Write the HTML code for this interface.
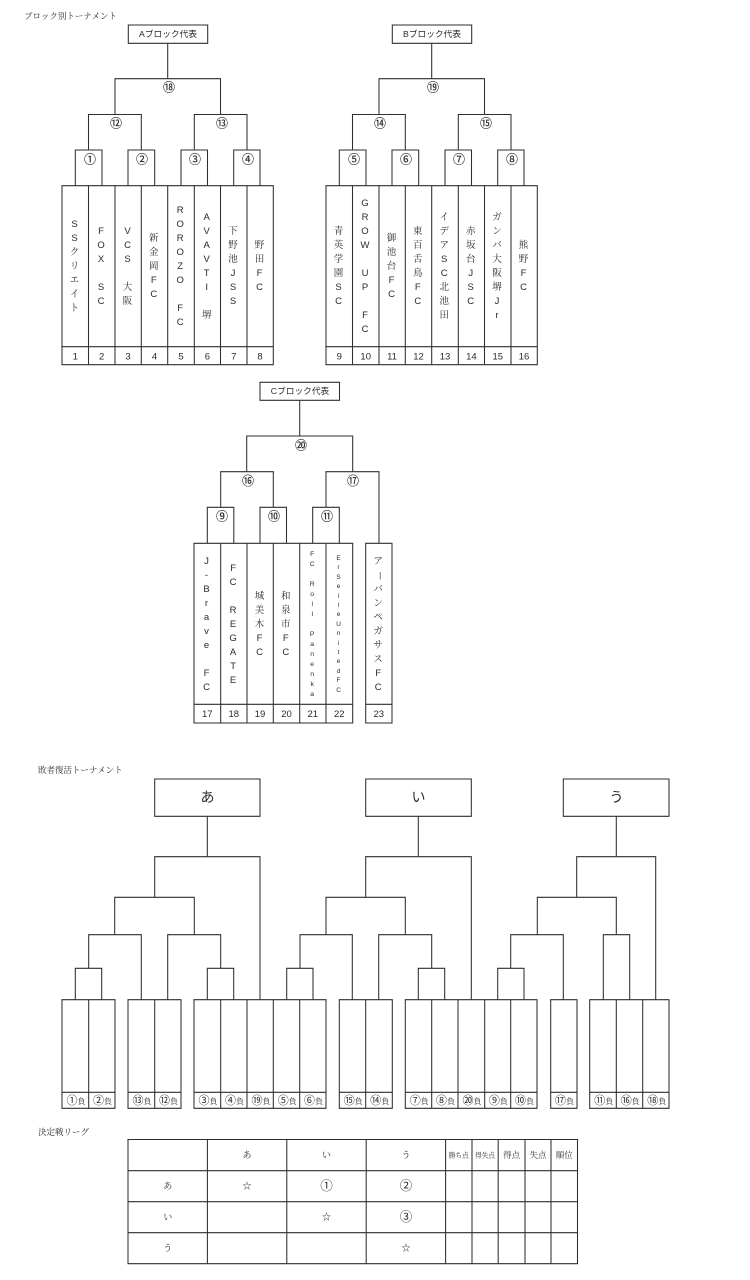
<!DOCTYPE html>
<html lang="ja"><head><meta charset="utf-8"><title>トーナメント表</title>
<style>
html,body{margin:0;padding:0;background:#fff}
#p{position:relative;width:750px;height:1280px;overflow:hidden;font-family:"Liberation Sans","Noto Serif CJK SC",serif;color:#2a2a2a;filter:blur(.3px)}
svg{position:absolute;left:0;top:0}
svg path{fill:none;stroke:#2e2e2e;stroke-width:1.05}
svg text{fill:#2a2a2a;text-anchor:middle;font-family:"Liberation Sans","Noto Sans CJK JP",sans-serif}
.n{font-size:9.5px}.c{font-size:12px;stroke:#2a2a2a;stroke-width:.15px}.r{font-size:8.7px}.b{font-size:14px}.h{font-size:8.5px;text-anchor:start!important;font-family:"Liberation Serif","Noto Serif CJK SC",serif!important}
.l{font-size:11px}.l tspan{font-size:8px;font-family:"Liberation Serif","Noto Serif CJK SC",serif}
.t{font-size:9px;font-family:"Liberation Serif","Noto Serif CJK SC",serif!important}.s{font-size:6.6px;font-family:"Liberation Serif","Noto Serif CJK SC",serif!important}.m{font-size:8.5px;font-family:"Liberation Serif","Noto Serif CJK SC",serif!important}.o{font-size:12.5px}
.v{position:absolute;width:26.4px;margin-left:-.7px;display:flex;align-items:center;justify-content:center;text-align:center;line-height:14px;font-size:9.5px}
.a{top:186.7px;height:161px}.k{top:544px;height:161px}
.sm{line-height:10px;font-size:6.8px}.sx{line-height:9.4px;font-size:6.4px}
.bar{display:block;writing-mode:vertical-rl;text-orientation:upright;width:14px;height:14px;line-height:14px;margin:0 auto}
</style></head><body><div id="p">
<svg width="750" height="1280" viewBox="0 0 750 1280">
<path d="M128.3 25H207.7V43.3H128.3ZM167.7 43.3V78.7M115 114.5V78.7H220.5V114.5M88.5 150V114.5H141.3V150M194.3 150V114.5H247V150M75.3 185.7V150H102V185.7M128 185.7V150H154.7V185.7M181 185.7V150H207.5V185.7M233.7 185.7V150H260V185.7M62 185.7H273.3V364.7H62ZM62 346.7H273.3M88.5 185.7V364.7M115 185.7V364.7M141.3 185.7V364.7M167.7 185.7V364.7M194.3 185.7V364.7M220.5 185.7V364.7M247 185.7V364.7"/>
<path transform="translate(264 0)" d="M128.3 25H207.7V43.3H128.3ZM167.7 43.3V78.7M115 114.5V78.7H220.5V114.5M88.5 150V114.5H141.3V150M194.3 150V114.5H247V150M75.3 185.7V150H102V185.7M128 185.7V150H154.7V185.7M181 185.7V150H207.5V185.7M233.7 185.7V150H260V185.7M62 185.7H273.3V364.7H62ZM62 346.7H273.3M88.5 185.7V364.7M115 185.7V364.7M141.3 185.7V364.7M167.7 185.7V364.7M194.3 185.7V364.7M220.5 185.7V364.7M247 185.7V364.7"/>
<path d="M260 382.3H339.5V400.3H260ZM299.7 400.3V436M246.7 471.7V436H352.7V471.7M220.7 507.3V471.7H273.3V507.3M326 507.3V471.7H379V543.3M207.3 543.3V507.3H233.8V543.3M260 543.3V507.3H286.5V543.3M312.7 543.3V507.3H339.3V543.3M194 543.3H352.7V723H194ZM194 704.3H352.7M220.7 543.3V723M247 543.3V723M273.3 543.3V723M299.7 543.3V723M326 543.3V723M365.7 543.3H392V723H365.7ZM365.7 704.3H392"/>
<path d="M154.7 779H260V816.3H154.7ZM207.3 816.3V856.7M154.7 897.3V856.7H260V999.7M114.7 934.7V897.3H194.3V934.7M88.7 968.3V934.7H141.3V999.7M75.3 999.7V968.3H101.7V999.7M167.7 999.7V934.7H220.7V968.3M207.3 999.7V968.3H233.7V999.7"/>
<path d="M365.7 779H471.3V816.3H365.7ZM418.3 816.3V856.7M365.7 897.3V856.7H471.3V999.7M326 934.7V897.3H405.3V934.7M300 968.3V934.7H352.3V999.7M286.7 999.7V968.3H313V999.7M378.7 999.7V934.7H431.7V968.3M418.3 999.7V968.3H444.7V999.7"/>
<path d="M563.3 779H669V816.3H563.3ZM616.3 816.3V856.7M576.7 897.3V856.7H655.7V999.7M537.3 934.7V897.3H616.3V934.7M510.7 968.3V934.7H563.3V999.7M497.7 999.7V968.3H524V999.7M603.3 999.7V934.7H629.7V999.7"/>
<path d="M62 999.7H115V1108.3H62ZM88.7 999.7V1108.3M62 1092.3H115M128 999.7H181V1108.3H128ZM154.7 999.7V1108.3M128 1092.3H181M194 999.7H326V1108.3H194ZM220.7 999.7V1108.3M247 999.7V1108.3M273.3 999.7V1108.3M299.7 999.7V1108.3M194 1092.3H326M339.3 999.7H392.3V1108.3H339.3ZM365.7 999.7V1108.3M339.3 1092.3H392.3M405.3 999.7H537V1108.3H405.3ZM431.7 999.7V1108.3M458 999.7V1108.3M484.7 999.7V1108.3M510.7 999.7V1108.3M405.3 1092.3H537M550.7 999.7H577V1108.3H550.7ZM550.7 1092.3H577M589.7 999.7H669V1108.3H589.7ZM616.3 999.7V1108.3M642.7 999.7V1108.3M589.7 1092.3H669"/>
<path d="M128 1139.5H577.5V1263.7H128ZM128 1170.7H577.5M128 1201.7H577.5M128 1232.7H577.5M207.4 1139.5V1263.7M286.8 1139.5V1263.7M366.2 1139.5V1263.7M445.6 1139.5V1263.7M472 1139.5V1263.7M498.2 1139.5V1263.7M525 1139.5V1263.7M551 1139.5V1263.7"/>

<text class="h" x="24" y="19">ブロック別トーナメント</text>
<text class="h" x="38" y="773">敗者復活トーナメント</text>
<text class="h" x="38" y="1135">決定戦リーグ</text>

<text class="r" x="168" y="37">Aブロック代表</text>
<text class="r" x="432" y="37">Bブロック代表</text>
<text class="r" x="300" y="394">Cブロック代表</text>
<text class="b" x="207.5" y="802">あ</text>
<text class="b" x="418.5" y="802">い</text>
<text class="b" x="616.5" y="802">う</text>

<text class="c" x="169" y="91.5">⑱</text><text class="c" x="116" y="127.5">⑫</text><text class="c" x="222" y="127.5">⑬</text>
<text class="c" x="90" y="163.5">①</text><text class="c" x="142" y="163.5">②</text><text class="c" x="195" y="163.5">③</text><text class="c" x="248" y="163.5">④</text>
<text class="c" x="433" y="91.5">⑲</text><text class="c" x="380" y="127.5">⑭</text><text class="c" x="486" y="127.5">⑮</text>
<text class="c" x="354" y="163.5">⑤</text><text class="c" x="406" y="163.5">⑥</text><text class="c" x="459" y="163.5">⑦</text><text class="c" x="512" y="163.5">⑧</text>
<text class="c" x="301" y="449.5">⑳</text><text class="c" x="248" y="485">⑯</text><text class="c" x="353" y="485">⑰</text>
<text class="c" x="222" y="520.5">⑨</text><text class="c" x="274" y="520.5">⑩</text><text class="c" x="327" y="520.5">⑪</text>

<text class="n" x="75.3" y="359.5">1</text><text class="n" x="101.7" y="359.5">2</text><text class="n" x="128" y="359.5">3</text><text class="n" x="154.5" y="359.5">4</text><text class="n" x="181" y="359.5">5</text><text class="n" x="207.4" y="359.5">6</text><text class="n" x="233.8" y="359.5">7</text><text class="n" x="260" y="359.5">8</text>
<text class="n" x="339.3" y="359.5">9</text><text class="n" x="365.7" y="359.5">10</text><text class="n" x="392" y="359.5">11</text><text class="n" x="418.5" y="359.5">12</text><text class="n" x="445" y="359.5">13</text><text class="n" x="471.4" y="359.5">14</text><text class="n" x="497.8" y="359.5">15</text><text class="n" x="524" y="359.5">16</text>
<text class="n" x="207.3" y="717">17</text><text class="n" x="233.8" y="717">18</text><text class="n" x="260" y="717">19</text><text class="n" x="286.5" y="717">20</text><text class="n" x="312.8" y="717">21</text><text class="n" x="339.3" y="717">22</text><text class="n" x="378.8" y="717">23</text>

<g class="l">
<text x="76" y="1104">①<tspan>負</tspan></text><text x="102.5" y="1104">②<tspan>負</tspan></text>
<text x="142" y="1104">⑬<tspan>負</tspan></text><text x="168.5" y="1104">⑫<tspan>負</tspan></text>
<text x="208" y="1104">③<tspan>負</tspan></text><text x="234.5" y="1104">④<tspan>負</tspan></text><text x="261" y="1104">⑲<tspan>負</tspan></text><text x="287.2" y="1104">⑤<tspan>負</tspan></text><text x="313.5" y="1104">⑥<tspan>負</tspan></text>
<text x="353.2" y="1104">⑮<tspan>負</tspan></text><text x="379.7" y="1104">⑭<tspan>負</tspan></text>
<text x="419.2" y="1104">⑦<tspan>負</tspan></text><text x="445.5" y="1104">⑧<tspan>負</tspan></text><text x="472" y="1104">⑳<tspan>負</tspan></text><text x="498.4" y="1104">⑨<tspan>負</tspan></text><text x="524.5" y="1104">⑩<tspan>負</tspan></text>
<text x="564.5" y="1104">⑰<tspan>負</tspan></text>
<text x="603.7" y="1104">⑪<tspan>負</tspan></text><text x="630.2" y="1104">⑯<tspan>負</tspan></text><text x="656.7" y="1104">⑱<tspan>負</tspan></text>
</g>

<text class="t" x="247" y="1158">あ</text><text class="t" x="326.5" y="1158">い</text><text class="t" x="406" y="1158">う</text>
<text class="s" x="458.8" y="1157.5">勝ち点</text><text class="s" x="485" y="1157.5">得失点</text><text class="m" x="511.6" y="1158">得点</text><text class="m" x="538" y="1158">失点</text><text class="m" x="564.2" y="1158">順位</text>
<text class="t" x="167.7" y="1189">あ</text><text class="t" x="167.7" y="1220">い</text><text class="t" x="167.7" y="1251">う</text>
<text class="t" x="247" y="1189">☆</text><text class="o" x="326.5" y="1190">①</text><text class="o" x="406" y="1190">②</text>
<text class="t" x="326.5" y="1220">☆</text><text class="o" x="406" y="1221">③</text><text class="t" x="406" y="1251">☆</text>
</svg>

<div class="v a" style="left:62px"><div>S<br>S<br>ク<br>リ<br>エ<br>イ<br>ト</div></div>
<div class="v a" style="left:88.5px"><div>F<br>O<br>X<br><br>S<br>C</div></div>
<div class="v a" style="left:115px"><div>V<br>C<br>S<br><br>大<br>阪</div></div>
<div class="v a" style="left:141.3px"><div>新<br>金<br>岡<br>F<br>C</div></div>
<div class="v a" style="left:167.7px"><div>R<br>O<br>R<br>O<br>Z<br>O<br><br>F<br>C</div></div>
<div class="v a" style="left:194.2px"><div>A<br>V<br>A<br>V<br>T<br>I<br><br>堺</div></div>
<div class="v a" style="left:220.5px"><div>下<br>野<br>池<br>J<br>S<br>S</div></div>
<div class="v a" style="left:247px"><div>野<br>田<br>F<br>C</div></div>

<div class="v a" style="left:326px"><div>青<br>英<br>学<br>園<br>S<br>C</div></div>
<div class="v a" style="left:352.5px"><div>G<br>R<br>O<br>W<br><br>U<br>P<br><br>F<br>C</div></div>
<div class="v a" style="left:379px"><div>御<br>池<br>台<br>F<br>C</div></div>
<div class="v a" style="left:405.3px"><div>東<br>百<br>舌<br>鳥<br>F<br>C</div></div>
<div class="v a" style="left:431.7px"><div>イ<br>デ<br>ア<br>S<br>C<br>北<br>池<br>田</div></div>
<div class="v a" style="left:458.2px"><div>赤<br>坂<br>台<br>J<br>S<br>C</div></div>
<div class="v a" style="left:484.5px"><div>ガ<br>ン<br>バ<br>大<br>阪<br>堺<br>J<br>r</div></div>
<div class="v a" style="left:511px"><div>熊<br>野<br>F<br>C</div></div>

<div class="v k" style="left:194px"><div>J<br>-<br>B<br>r<br>a<br>v<br>e<br><br>F<br>C</div></div>
<div class="v k" style="left:220.6px"><div>F<br>C<br><br>R<br>E<br>G<br>A<br>T<br>E</div></div>
<div class="v k" style="left:247px"><div>城<br>美<br>木<br>F<br>C</div></div>
<div class="v k" style="left:273.3px"><div>和<br>泉<br>市<br>F<br>C</div></div>
<div class="v k sm" style="left:299.7px"><div>F<br>C<br><br>R<br>o<br>l<br>l<br><br>P<br>a<br>n<br>e<br>n<br>k<br>a</div></div>
<div class="v k sx" style="left:326px"><div>E<br>r<br>S<br>e<br>l<br>l<br>e<br>U<br>n<br>i<br>t<br>e<br>d<br>F<br>C</div></div>
<div class="v k" style="left:365.7px"><div>ア<span class="bar">ー</span>バ<br>ン<br>ペ<br>ガ<br>サ<br>ス<br>F<br>C</div></div>
</div></body></html>
